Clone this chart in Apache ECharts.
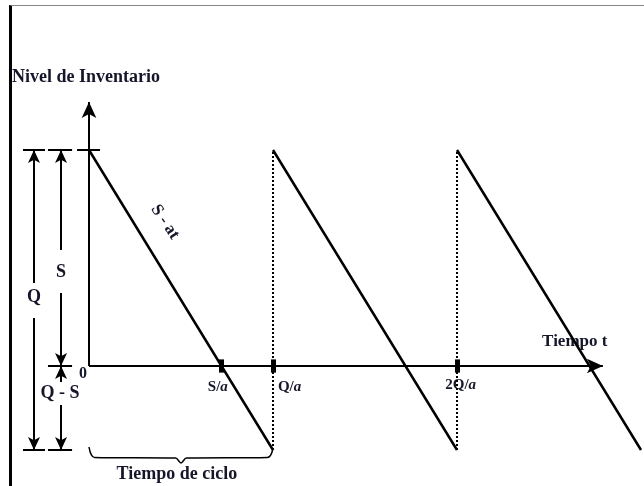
<!DOCTYPE html>
<html>
<head>
<meta charset="utf-8">
<script src="https://cdn.jsdelivr.net/npm/echarts@6/dist/echarts.min.js"></script>
<style>
  body { margin: 0; background: #fff; }
  #frame { position: absolute; left: 9px; top: 5px; width: 635px; height: 481px;
           border-left: 3px solid #000; border-top: 1px solid #888; box-sizing: border-box; }
  #chart { position: absolute; left: 0; top: 0; width: 644px; height: 486px; }
</style>
</head>
<body>
<div id="frame"></div>
<div id="chart"></div>
<script>
// levels (Q = 1, a = 1)
var levelS = 0.72
var levelLow = -0.28
var cycleStarts = [0, 1, 2]
var cycleLen = 1
var tickTimes = [0.72, 1, 2]
var tickLabels = ['S/{i|a}', 'Q/{i|a}', '2Q/{i|a}']
var tickLabelPos = [[0.70, -0.07], [1.09, -0.07], [2.02, -0.065]]
var axisEndT = 2.793
var axisEndY = 0.88

// dimension arrows on the left: [x, yFrom, yTo] (arrow at yTo)
var dimArrows = [
  [-0.299, 0.277, 0.72], [-0.299, 0.16, -0.28],
  [-0.152, 0.387, 0.72], [-0.152, 0.243, 0],
  [-0.152, -0.053, 0], [-0.152, -0.13, -0.28]
]
// caps: [xFrom, xTo, y]
var caps = [
  [-0.359, -0.239, 0.72], [-0.223, -0.092, 0.72], [-0.065, 0.06, 0.72],
  [-0.223, -0.092, 0],
  [-0.359, -0.239, -0.28], [-0.223, -0.092, -0.28]
]
// brace under first cycle
var brace = [[0, -0.27], [0.03, -0.305], [0.47, -0.307], [0.5, -0.323], [0.53, -0.307], [0.97, -0.305], [1, -0.275]]

// text labels: [x, y, text, rotate, align, size]
var texts = [
  [-0.418, 0.963, 'Nivel de Inventario', 0, 'left', 18],
  [-0.033, -0.027, '0', 0, 'center', 16],
  [2.64, 0.08, 'Tiempo t', 0, 'center', 17],
  [0.478, -0.36, 'Tiempo de ciclo', 0, 'center', 18],
  [0.413, 0.48, 'S - at', -56, 'center', 17],
  [-0.299, 0.23, 'Q', 0, 'center', 18],
  [-0.152, 0.313, 'S', 0, 'center', 18],
  [-0.158, -0.09, 'Q - S', 0, 'center', 18]
]

var saw = []
cycleStarts.forEach(function (t0) {
  saw.push([t0, levelS])
  saw.push([t0 + cycleLen, levelLow])
  saw.push([t0 + cycleLen, '-'])
})

var font = 'Liberation Serif'
var txtColor = '#16162a'

function seg (a, b) { return [{coord: a}, {coord: b}] }

var option = {
  animation: false,
  grid: {left: 9.88, top: 6, width: 631.12, height: 480},
  xAxis: {type: 'value', min: -0.43, max: 3, show: false},
  yAxis: {type: 'value', min: -0.4, max: 1.2, show: false},
  series: [
    {
      name: 'inventario',
      type: 'line',
      data: saw,
      showSymbol: false,
      connectNulls: false,
      lineStyle: {color: '#000', width: 2.5},
      silent: true,
      // axes with arrows
      markLine: {
        silent: true,
        symbol: ['none', 'arrow'],
        symbolSize: [11, 16],
        label: {show: false},
        lineStyle: {color: '#000', width: 2, type: 'solid'},
        data: [seg([0, 0], [axisEndT, 0]), seg([0, 0], [0, axisEndY])]
      }
    },
    {
      name: 'dotted',
      type: 'line',
      data: [],
      markLine: {
        silent: true,
        symbol: 'none',
        label: {show: false},
        lineStyle: {color: '#000', width: 2, type: [2, 2]},
        data: cycleStarts.slice(1).map(function (t) { return seg([t, levelLow], [t, levelS]) })
      }
    },
    {
      name: 'ticks',
      type: 'line',
      data: [],
      markLine: {
        silent: true,
        symbol: 'none',
        label: {show: false},
        lineStyle: {color: '#000', width: 5, type: 'solid'},
        data: tickTimes.map(function (t) { return seg([t, 0.022], [t, -0.022]) })
      }
    },
    {
      name: 'dims',
      type: 'line',
      data: [],
      markLine: {
        silent: true,
        symbol: ['none', 'arrow'],
        symbolSize: [9, 13],
        label: {show: false},
        lineStyle: {color: '#000', width: 2, type: 'solid'},
        data: dimArrows.map(function (d) { return seg([d[0], d[1]], [d[0], d[2]]) })
      }
    },
    {
      name: 'caps',
      type: 'line',
      data: [],
      markLine: {
        silent: true,
        symbol: 'none',
        label: {show: false},
        lineStyle: {color: '#000', width: 2, type: 'solid'},
        data: caps.map(function (c) { return seg([c[0], c[2]], [c[1], c[2]]) })
      }
    },
    {
      name: 'brace',
      type: 'line',
      data: brace,
      smooth: 0.35,
      showSymbol: false,
      silent: true,
      lineStyle: {color: '#000', width: 1.5}
    },
    {
      name: 'tickLabels',
      type: 'scatter',
      symbolSize: 0,
      silent: true,
      clip: false,
      itemStyle: {opacity: 1},
      data: tickTimes.map(function (t, i) { return {value: tickLabelPos[i], name: tickLabels[i]} }),
      label: {
        show: true, position: 'inside', formatter: '{b}', opacity: 1,
        color: txtColor, fontFamily: font, fontWeight: 'bold', fontSize: 15, textBorderWidth: 0,
        rich: {i: {fontStyle: 'italic', fontFamily: font, fontWeight: 'bold', fontSize: 15, color: txtColor, textBorderWidth: 0}}
      }
    },
    {
      name: 'texts',
      type: 'scatter',
      symbolSize: 0,
      silent: true,
      clip: false,
      itemStyle: {opacity: 1},
      data: texts.map(function (t) {
        return {
          value: [t[0], t[1]], name: t[2],
          label: {rotate: t[3], align: t[4], fontSize: t[5]}
        }
      }),
      label: {
        show: true, position: 'inside', formatter: '{b}', opacity: 1,
        color: txtColor, fontFamily: font, fontWeight: 'bold', textBorderWidth: 0
      }
    }
  ]
}

var myChart = echarts.init(document.getElementById('chart'))
myChart.setOption(option)
</script>
</body>
</html>
